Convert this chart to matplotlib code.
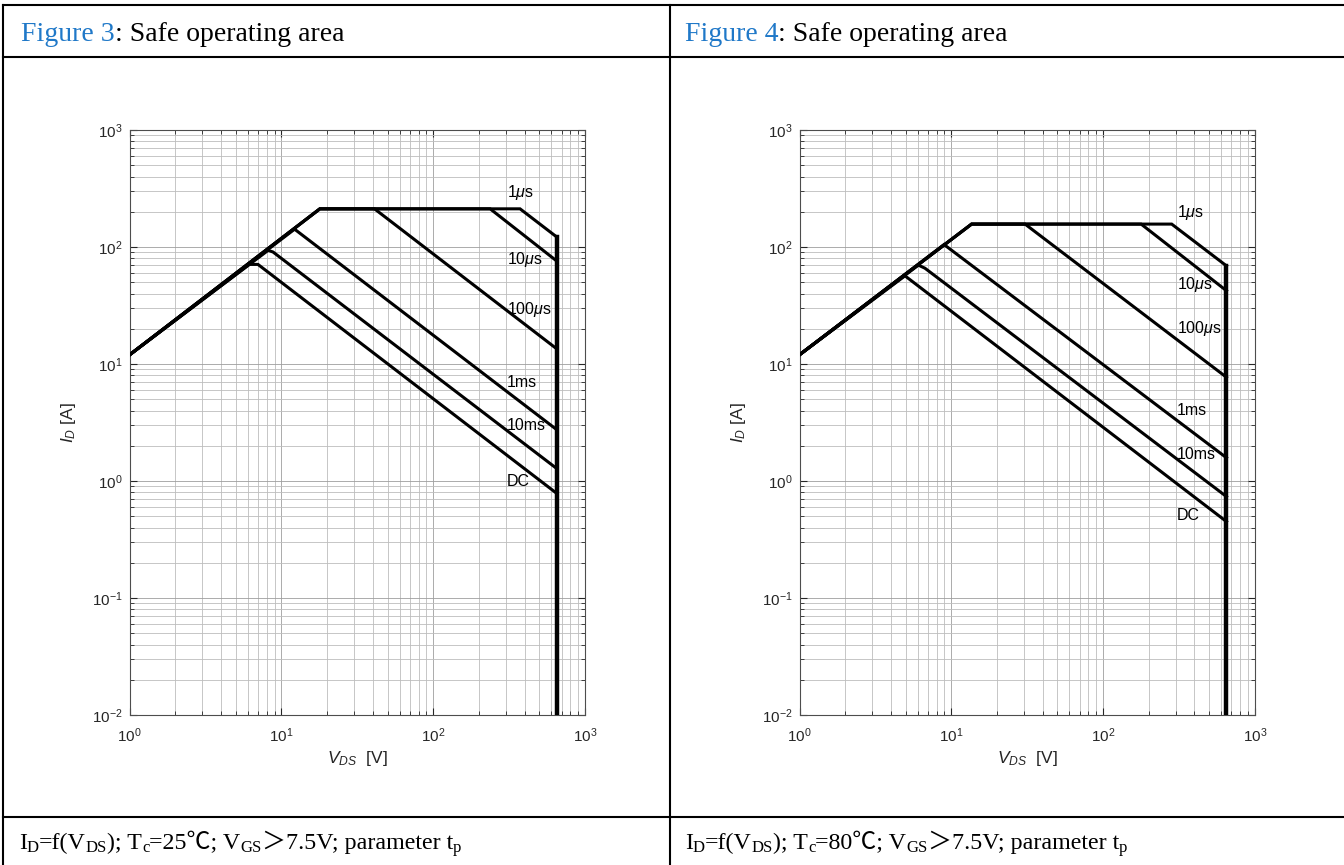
import numpy as np
import matplotlib.pyplot as plt
from matplotlib.ticker import LogLocator

plt.rcParams['font.family'] = ['Liberation Sans', 'DejaVu Sans']
plt.rcParams['mathtext.fontset'] = 'custom'
plt.rcParams['mathtext.rm'] = 'Liberation Sans'
plt.rcParams['mathtext.it'] = 'Liberation Sans:italic'
plt.rcParams['axes.unicode_minus'] = False

SERIF = ['Liberation Serif', 'Noto Sans CJK SC', 'DejaVu Serif']
BLUE = '#1f78c8'

curve_labels = ['1$\\mu$s', '10$\\mu$s', '100$\\mu$s', '1ms', '10ms', 'DC']

V_MAX = 650      # V_DS limit [V]
I_FLOOR = 0.01   # bottom of the plot [A]

# Tc = 25 C : corner points of each t_p boundary (V_DS [V], I_D [A])
v_25 = [
    [1, 17.9, 373, 650],
    [1, 17.9, 237, 650],
    [1, 17.9, 41, 650],
    [1, 12.2, 650],
    [1, 8.17, 8.8, 650],
    [1, 6.12, 7.0, 650],
]
i_25 = [
    [12, 212, 212, 122],
    [12, 212, 212, 76],
    [12, 212, 212, 13.5],
    [12, 142, 2.75],
    [12, 93.7, 90.6, 1.28],
    [12, 71, 71, 0.785],
]
label_i_25 = [294, 78.5, 29.5, 7.0, 3.0, 1.0]

# Tc = 80 C
v_80 = [
    [1, 13.6, 283, 650],
    [1, 13.6, 178, 650],
    [1, 13.6, 30.6, 650],
    [1, 8.95, 650],
    [1, 6.07, 6.7, 650],
    [1, 4.95, 650],
]
i_80 = [
    [12, 157, 157, 69],
    [12, 157, 157, 42.3],
    [12, 157, 157, 7.7],
    [12, 105, 1.58],
    [12, 70, 65.9, 0.736],
    [12, 56.7, 0.45],
]
label_i_80 = [196, 47.5, 20, 4.0, 1.69, 0.507]
LABEL_V = 305


def soa_panel(ax, v_sets, i_sets, label_i):
    for v, i in zip(v_sets, i_sets):
        ax.plot(v, i, color='black', lw=2.2, solid_joinstyle='miter', zorder=3)
    top = max(i[-1] for i in i_sets)
    ax.plot([V_MAX, V_MAX], [top, I_FLOOR], color='black', lw=3.2, zorder=3)
    for lab, y in zip(curve_labels, label_i):
        ax.text(LABEL_V, y, lab, fontsize=11.5, va='center', ha='left', zorder=4)

    ax.set_xscale('log')
    ax.set_yscale('log')
    ax.set_xlim(1, 1000)
    ax.set_ylim(0.01, 1000)
    for axis in (ax.xaxis, ax.yaxis):
        axis.set_major_locator(LogLocator(base=10, numticks=12))
        axis.set_minor_locator(LogLocator(base=10, subs=np.arange(2, 10), numticks=12))
    ax.grid(True, which='major', color='0.62', lw=0.6)
    ax.grid(True, which='minor', color='0.74', lw=0.6)
    ax.tick_params(which='both', direction='in', top=True, right=True,
                   colors='0.15', labelsize=11)
    ax.tick_params(which='major', length=5)
    ax.tick_params(axis='x', which='major', pad=8)
    ax.tick_params(axis='y', which='major', pad=5)
    ax.tick_params(which='minor', length=3)
    for sp in ax.spines.values():
        sp.set_color('0.3')
        sp.set_linewidth(0.8)
    ax.set_xlabel('$V_{DS}$  [V]', fontsize=12.5, color='0.15', labelpad=3)
    ax.set_ylabel('$I_D$ [A]', fontsize=12.5, color='0.15', labelpad=10)


def rich_text(ax, x, y, parts, size, sub_size):
    # parts: (text, kind) with kind in 'blue', 'normal', 'sub'
    first = ax.text(x, y, parts[0][0], fontsize=size, family=SERIF, va='baseline',
                    color=BLUE if parts[0][1] == 'blue' else 'black')
    prev = first
    for s, kind in parts[1:]:
        sub = kind == 'sub'
        prev = ax.annotate(s, xy=(1, 0), xycoords=(prev, first),
                           xytext=(0, -1.2 if sub else 0), textcoords='offset points',
                           fontsize=sub_size if sub else size, family=SERIF,
                           va='bottom', ha='left',
                           color=BLUE if kind == 'blue' else 'black')
    return first


fig = plt.figure(figsize=(13.44, 8.65), dpi=100)

# table frame of the datasheet page
bg = fig.add_axes([0, 0, 1, 1], zorder=-1)
bg.set_xlim(0, 1344)
bg.set_ylim(865, 0)
bg.axis('off')
for yy in (5, 57, 817):
    bg.plot([3, 1344], [yy, yy], color='black', lw=1.5)
for xx in (3, 670):
    bg.plot([xx, xx], [5, 865], color='black', lw=1.5)

rich_text(bg, 21, 41, [('Figure 3', 'blue'), (': Safe operating area', 'normal')], 20, 14)
rich_text(bg, 685, 41, [('Figure 4', 'blue'), (': Safe operating area', 'normal')], 20, 14)

for x0, tc in ((19, '25'), (685, '80')):
    rich_text(bg, x0, 849, [
        ('I', 'normal'), ('D', 'sub'), ('=f(V', 'normal'), ('DS', 'sub'),
        ('); T', 'normal'), ('c', 'sub'), ('=' + tc + '℃; V', 'normal'), ('GS', 'sub'),
        ('＞7.5V; parameter t', 'normal'), ('p', 'sub'),
    ], 17.3, 12)

ax1 = fig.add_axes([0.0965, 0.1734, 0.3388, 0.6763])
soa_panel(ax1, v_25, i_25, label_i_25)

ax2 = fig.add_axes([0.5949, 0.1734, 0.3388, 0.6763])
soa_panel(ax2, v_80, i_80, label_i_80)

fig.savefig('out.png', dpi=100)
